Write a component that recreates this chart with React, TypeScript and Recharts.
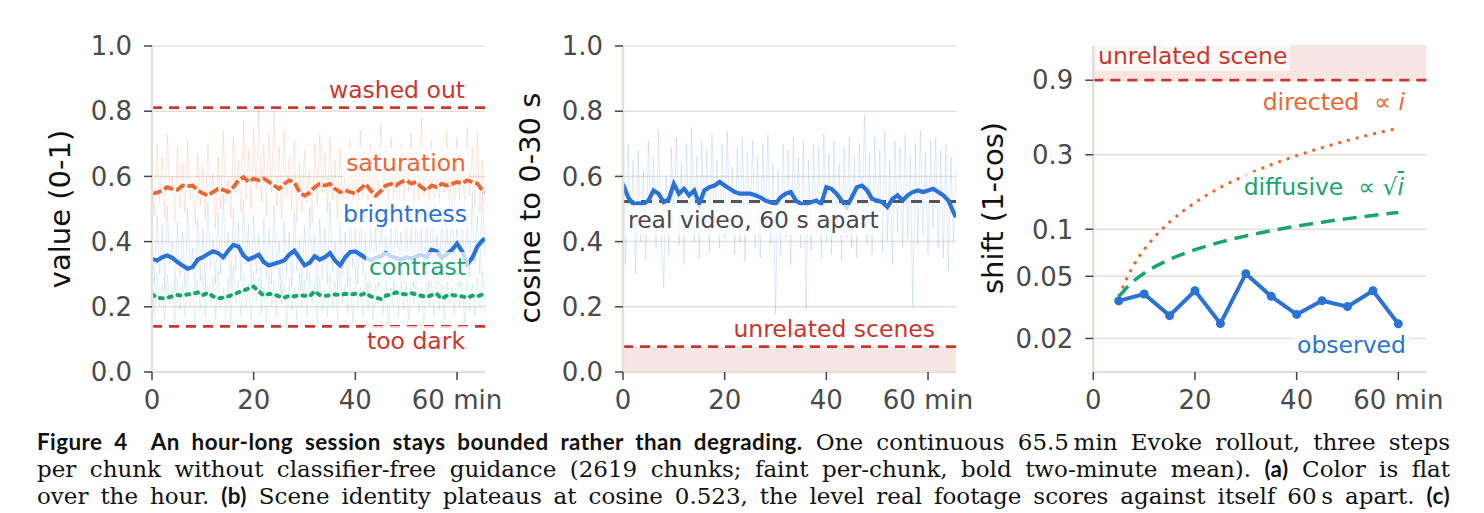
import React from "react";
import { LineChart, Line, XAxis, YAxis, CartesianGrid, ReferenceLine, ReferenceArea } from "recharts";

// ---- data -------------------------------------------------------------
// two-minute rolling mean, sampled every minute (last sample at 65.5 min)
const MEAN_T = Array.from({ length: 66 }, (_, i) => i).concat([65.5]);

const SATURATION_MEAN = [
  0.547, 0.55, 0.557, 0.567, 0.562, 0.559, 0.572, 0.57, 0.572, 0.557, 0.548, 0.541,
  0.552, 0.562, 0.559, 0.552, 0.567, 0.588, 0.598, 0.583, 0.593, 0.588, 0.593, 0.583,
  0.572, 0.562, 0.577, 0.588, 0.582, 0.552, 0.541, 0.55, 0.567, 0.577, 0.572, 0.577,
  0.562, 0.552, 0.557, 0.552, 0.547, 0.562, 0.577, 0.557, 0.541, 0.555, 0.572, 0.577,
  0.572, 0.583, 0.588, 0.578, 0.583, 0.567, 0.557, 0.572, 0.567, 0.577, 0.572, 0.577,
  0.583, 0.578, 0.588, 0.583, 0.578, 0.557, 0.552,
];
const BRIGHTNESS_MEAN = [
  0.347, 0.342, 0.352, 0.357, 0.35, 0.337, 0.327, 0.317, 0.322, 0.345, 0.352, 0.362,
  0.37, 0.365, 0.352, 0.372, 0.39, 0.385, 0.357, 0.345, 0.352, 0.36, 0.337, 0.327,
  0.332, 0.337, 0.342, 0.36, 0.372, 0.35, 0.327, 0.335, 0.355, 0.345, 0.352, 0.365,
  0.342, 0.327, 0.352, 0.368, 0.37, 0.36, 0.35, 0.342, 0.35, 0.355, 0.365, 0.355,
  0.35, 0.345, 0.352, 0.348, 0.355, 0.36, 0.352, 0.375, 0.37, 0.35, 0.362, 0.375,
  0.394, 0.37, 0.33, 0.35, 0.385, 0.404, 0.409,
];
const CONTRAST_MEAN = [
  0.239, 0.228, 0.226, 0.228, 0.232, 0.236, 0.234, 0.238, 0.24, 0.244, 0.236, 0.243,
  0.232, 0.226, 0.228, 0.232, 0.238, 0.244, 0.25, 0.256, 0.262, 0.248, 0.234, 0.24,
  0.238, 0.232, 0.228, 0.234, 0.232, 0.236, 0.234, 0.232, 0.248, 0.236, 0.234, 0.235,
  0.238, 0.236, 0.24, 0.238, 0.24, 0.236, 0.242, 0.232, 0.228, 0.224, 0.234, 0.238,
  0.244, 0.24, 0.238, 0.242, 0.238, 0.234, 0.23, 0.236, 0.24, 0.224, 0.234, 0.236,
  0.234, 0.232, 0.228, 0.234, 0.232, 0.238, 0.24,
];
const COSINE_MEAN = [
  0.577, 0.536, 0.516, 0.517, 0.516, 0.526, 0.557, 0.547, 0.521, 0.53, 0.577, 0.547,
  0.562, 0.542, 0.557, 0.516, 0.557, 0.567, 0.572, 0.583, 0.572, 0.562, 0.552, 0.547,
  0.547, 0.547, 0.542, 0.536, 0.526, 0.521, 0.516, 0.536, 0.547, 0.552, 0.526, 0.516,
  0.516, 0.521, 0.526, 0.516, 0.567, 0.562, 0.547, 0.526, 0.506, 0.536, 0.567, 0.572,
  0.557, 0.531, 0.526, 0.521, 0.506, 0.531, 0.542, 0.526, 0.542, 0.552, 0.557, 0.552,
  0.557, 0.562, 0.552, 0.542, 0.526, 0.49, 0.475,
];

// faint per-chunk values, read every half minute
const RAW_STEP = 0.5;
const SATURATION_RAW = [
  0.62, 0.48, 0.70, 0.52, 0.66, 0.47, 0.73, 0.55, 0.60, 0.46, 0.69, 0.50,
  0.64, 0.49, 0.71, 0.53, 0.58, 0.45, 0.67, 0.51, 0.63, 0.47, 0.70, 0.54,
  0.61, 0.44, 0.66, 0.50, 0.74, 0.52, 0.59, 0.47, 0.72, 0.55, 0.65, 0.49,
  0.77, 0.53, 0.68, 0.50, 0.75, 0.56, 0.81, 0.52, 0.70, 0.48, 0.73, 0.55,
  0.80, 0.51, 0.69, 0.47, 0.74, 0.54, 0.66, 0.50, 0.71, 0.46, 0.64, 0.49,
  0.68, 0.52, 0.62, 0.45, 0.70, 0.51, 0.73, 0.55, 0.67, 0.49, 0.72, 0.53,
  0.65, 0.47, 0.69, 0.50, 0.63, 0.46, 0.71, 0.52, 0.66, 0.48, 0.74, 0.54,
  0.68, 0.50, 0.70, 0.47, 0.65, 0.52, 0.76, 0.55, 0.69, 0.49, 0.72, 0.53,
  0.64, 0.47, 0.70, 0.51, 0.67, 0.55, 0.73, 0.49, 0.66, 0.52, 0.78, 0.54,
  0.68, 0.50, 0.71, 0.47, 0.64, 0.52, 0.69, 0.55, 0.74, 0.50, 0.67, 0.48,
  0.72, 0.53, 0.66, 0.50, 0.75, 0.54, 0.69, 0.51, 0.73, 0.49, 0.65, 0.52,
];
const BRIGHTNESS_RAW = [
  0.42, 0.27, 0.48, 0.30, 0.45, 0.25, 0.51, 0.33, 0.40, 0.24, 0.46, 0.29,
  0.43, 0.26, 0.50, 0.31, 0.38, 0.23, 0.47, 0.28, 0.44, 0.25, 0.52, 0.32,
  0.41, 0.27, 0.49, 0.30, 0.55, 0.34, 0.43, 0.26, 0.50, 0.31, 0.46, 0.28,
  0.53, 0.33, 0.45, 0.25, 0.48, 0.30, 0.42, 0.24, 0.47, 0.29, 0.44, 0.27,
  0.51, 0.32, 0.40, 0.23, 0.46, 0.30, 0.43, 0.26, 0.49, 0.31, 0.41, 0.25,
  0.45, 0.28, 0.50, 0.33, 0.42, 0.24, 0.47, 0.29, 0.44, 0.27, 0.52, 0.31,
  0.40, 0.25, 0.46, 0.30, 0.43, 0.26, 0.48, 0.32, 0.45, 0.27, 0.50, 0.30,
  0.41, 0.24, 0.47, 0.29, 0.44, 0.26, 0.49, 0.31, 0.42, 0.28, 0.46, 0.25,
  0.51, 0.33, 0.43, 0.27, 0.48, 0.30, 0.45, 0.26, 0.50, 0.32, 0.44, 0.28,
  0.47, 0.25, 0.52, 0.31, 0.42, 0.27, 0.49, 0.30, 0.46, 0.28, 0.53, 0.34,
  0.45, 0.26, 0.50, 0.31, 0.47, 0.29, 0.55, 0.33, 0.48, 0.30, 0.56, 0.35,
];
const CONTRAST_RAW = [
  0.28, 0.18, 0.31, 0.20, 0.27, 0.16, 0.30, 0.21, 0.26, 0.15, 0.29, 0.19,
  0.27, 0.17, 0.32, 0.20, 0.25, 0.14, 0.28, 0.19, 0.30, 0.17, 0.27, 0.21,
  0.29, 0.16, 0.31, 0.20, 0.26, 0.18, 0.29, 0.15, 0.33, 0.21, 0.28, 0.17,
  0.30, 0.20, 0.27, 0.16, 0.31, 0.22, 0.29, 0.18, 0.26, 0.15, 0.30, 0.20,
  0.28, 0.17, 0.32, 0.21, 0.27, 0.13, 0.29, 0.19, 0.26, 0.16, 0.30, 0.20,
  0.28, 0.17, 0.31, 0.21, 0.27, 0.15, 0.29, 0.19, 0.26, 0.17, 0.30, 0.20,
  0.28, 0.16, 0.31, 0.21, 0.27, 0.18, 0.29, 0.15, 0.32, 0.20, 0.26, 0.17,
  0.30, 0.19, 0.28, 0.16, 0.27, 0.21, 0.31, 0.18, 0.29, 0.15, 0.26, 0.20,
  0.30, 0.17, 0.28, 0.19, 0.27, 0.16, 0.31, 0.21, 0.29, 0.18, 0.26, 0.15,
  0.30, 0.20, 0.28, 0.17, 0.32, 0.19, 0.27, 0.16, 0.29, 0.21, 0.26, 0.18,
  0.31, 0.20, 0.28, 0.15, 0.30, 0.19, 0.27, 0.17, 0.29, 0.20, 0.31, 0.18,
];
const COSINE_RAW = [
  0.82, 0.33, 0.70, 0.42, 0.65, 0.30, 0.68, 0.40, 0.62, 0.34, 0.71, 0.45,
  0.66, 0.38, 0.74, 0.41, 0.26, 0.60, 0.36, 0.69, 0.44, 0.72, 0.39, 0.64,
  0.33, 0.70, 0.42, 0.75, 0.40, 0.66, 0.35, 0.71, 0.43, 0.68, 0.37, 0.73,
  0.46, 0.65, 0.38, 0.70, 0.41, 0.74, 0.44, 0.63, 0.36, 0.69, 0.40, 0.72,
  0.34, 0.67, 0.43, 0.71, 0.38, 0.66, 0.35, 0.70, 0.42, 0.73, 0.39, 0.64,
  0.17, 0.62, 0.36, 0.70, 0.41, 0.68, 0.33, 0.72, 0.44, 0.66, 0.38, 0.71,
  0.19, 0.65, 0.37, 0.70, 0.42, 0.69, 0.35, 0.73, 0.40, 0.67, 0.36, 0.71,
  0.43, 0.64, 0.34, 0.69, 0.41, 0.72, 0.38, 0.66, 0.35, 0.70, 0.44, 0.79,
  0.39, 0.67, 0.36, 0.72, 0.42, 0.68, 0.37, 0.74, 0.40, 0.65, 0.33, 0.71,
  0.43, 0.69, 0.38, 0.73, 0.41, 0.66, 0.20, 0.70, 0.39, 0.74, 0.42, 0.67,
  0.36, 0.71, 0.44, 0.72, 0.38, 0.68, 0.35, 0.70, 0.31, 0.66, 0.40, 0.62,
];

const WASHED_OUT = 0.811;
const TOO_DARK = 0.14;
const REAL_VIDEO_60S = 0.523;
const UNRELATED_COS = 0.078;
const UNRELATED_SHIFT = 0.9;

// (c) shift from the first window, every 5 minutes
const OBS_T = [5, 10, 15, 20, 25, 30, 35, 40, 45, 50, 55, 60];
const OBSERVED = [0.0348, 0.0385, 0.028, 0.0404, 0.0249, 0.052, 0.0372, 0.0285, 0.0349, 0.032, 0.0404, 0.0248];
const MODEL_T = [5, 7.5, 10, 12.5, 15, 20, 25, 30, 35, 40, 45, 50, 55, 60];
const DIRECTED = [0.037, 0.0555, 0.074, 0.0925, 0.111, 0.148, 0.185, 0.222, 0.259, 0.296, 0.333, 0.37, 0.407, 0.444];
const DIFFUSIVE = [0.037, 0.0453, 0.0523, 0.0585, 0.0641, 0.074, 0.0827, 0.0906, 0.0979, 0.1047, 0.111, 0.117, 0.1227, 0.128];

const X_TICKS = [0, 20, 40, 60];
const LIN_TICKS = [0, 0.2, 0.4, 0.6, 0.8, 1.0];
const LOG_TICKS = [0.02, 0.05, 0.1, 0.3, 0.9];

// ---- style ------------------------------------------------------------
const RED = "#c9372c";
const ORANGE = "#ec6531";
const BLUE = "#2a72d6";
const GREEN = "#1aa56f";
const PINK = "#f8e6e4";
const SPINE = "#e2e0d9";
const FONT = "DejaVu Sans, sans-serif";

const rows = (ts: number[], vs: number[]) => vs.map((v, i) => ({ t: ts[i], v }));
const rawRows = (vs: number[]) => vs.map((v, i) => ({ t: i * RAW_STEP, v }));

const tick = { fontSize: 26, fill: "#4a4a4a", fontFamily: FONT };

function xAxis() {
  return (
    <XAxis
      type="number"
      dataKey="t"
      domain={[0, 65.5]}
      ticks={X_TICKS}
      interval={0}
      allowDataOverflow
      tickFormatter={(v) => (v === 60 ? "60 min" : String(v))}
      tick={tick}
      tickSize={8}
      tickMargin={11}
      height={58}
      axisLine={{ stroke: SPINE, strokeWidth: 2.5 }}
      tickLine={{ stroke: "#444", strokeWidth: 1.5 }}
    />
  );
}

function Panel({ left, yWidth, children }: { left: number; yWidth: number; children: React.ReactNode }) {
  return (
    <div style={{ position: "absolute", left, top: 0 }}>
      <LineChart width={yWidth + 333 + 40} height={430} margin={{ top: 46, right: 40, bottom: 0, left: 0 }}>
        {children}
      </LineChart>
    </div>
  );
}

function Tag({
  x, right, base, color, size = 23.5, children,
}: { x?: number; right?: number; base: number; color: string; size?: number; children: React.ReactNode }) {
  const pos: React.CSSProperties = right != null ? { right: 1484 - right - 3 } : { left: (x ?? 0) - 3 };
  return (
    <div
      style={{
        position: "absolute", ...pos, top: base - 1 - 0.946 * size,
        fontFamily: FONT, fontSize: size, lineHeight: 1.2, color, whiteSpace: "nowrap",
        padding: "1px 3px", background: "rgba(255,255,255,0.72)",
      }}
    >
      {children}
    </div>
  );
}

function Title({ cx, cy, children }: { cx: number; cy: number; children: React.ReactNode }) {
  return (
    <div
      style={{
        position: "absolute", left: cx, top: cy, transform: "translate(-50%,-50%) rotate(-90deg)",
        fontFamily: FONT, fontSize: 29, color: "#111", whiteSpace: "nowrap", lineHeight: 1,
      }}
    >
      {children}
    </div>
  );
}

const serif: React.CSSProperties = { fontFamily: "DejaVu Serif, serif", fontSize: 23 };
const bold: React.CSSProperties = {
  fontFamily: "Lato, sans-serif", fontWeight: 700, fontSize: 22.4, letterSpacing: 0.45, lineHeight: 1,
};

function CaptionLine({ top, children }: { top: number; children: React.ReactNode }) {
  return (
    <div
      style={{
        position: "absolute", left: 37, top, width: 1413, color: "#111", lineHeight: "27px",
        textAlign: "justify", textAlignLast: "justify", ...serif,
      }}
    >
      {children}
    </div>
  );
}

export default function App() {
  return (
    <div style={{ position: "absolute", left: 0, top: 0, width: 1484, height: 513, background: "#fff", overflow: "hidden" }}>
      {/* (a) color statistics */}
      <Panel left={0} yWidth={152}>
        <CartesianGrid vertical={false} stroke={SPINE} strokeWidth={1.5} />
        {xAxis()}
        <YAxis
          type="number" domain={[0, 1]} ticks={LIN_TICKS} interval={0} width={152}
          tickFormatter={(v) => v.toFixed(1)} tick={tick} tickSize={8} tickMargin={12}
          axisLine={{ stroke: SPINE, strokeWidth: 2.5 }} tickLine={{ stroke: "#444", strokeWidth: 1.5 }}
        />
        <Line data={rawRows(SATURATION_RAW)} dataKey="v" stroke={ORANGE} strokeOpacity={0.16} strokeWidth={1} dot={false} isAnimationActive={false} />
        <Line data={rawRows(BRIGHTNESS_RAW)} dataKey="v" stroke={BLUE} strokeOpacity={0.14} strokeWidth={1} dot={false} isAnimationActive={false} />
        <Line data={rawRows(CONTRAST_RAW)} dataKey="v" stroke={GREEN} strokeOpacity={0.13} strokeWidth={1} dot={false} isAnimationActive={false} />
        <Line data={rows(MEAN_T, SATURATION_MEAN)} dataKey="v" stroke={ORANGE} strokeWidth={3.8} strokeDasharray="10 3" dot={false} isAnimationActive={false} />
        <Line data={rows(MEAN_T, BRIGHTNESS_MEAN)} dataKey="v" stroke={BLUE} strokeWidth={4.2} dot={false} isAnimationActive={false} />
        <Line data={rows(MEAN_T, CONTRAST_MEAN)} dataKey="v" stroke={GREEN} strokeWidth={4} strokeDasharray="3 6" strokeLinecap="round" dot={false} isAnimationActive={false} />
        <ReferenceLine y={WASHED_OUT} stroke={RED} strokeWidth={2.8} strokeDasharray="10 7" />
        <ReferenceLine y={TOO_DARK} stroke={RED} strokeWidth={2.8} strokeDasharray="10 7" />
      </Panel>

      {/* (b) scene identity */}
      <Panel left={470} yWidth={153}>
        <ReferenceArea y1={0} y2={UNRELATED_COS} fill={PINK} fillOpacity={1} stroke="none" />
        <CartesianGrid vertical={false} stroke={SPINE} strokeWidth={1.5} />
        {xAxis()}
        <YAxis
          type="number" domain={[0, 1]} ticks={LIN_TICKS} interval={0} width={153}
          tickFormatter={(v) => v.toFixed(1)} tick={tick} tickSize={8} tickMargin={12}
          axisLine={{ stroke: SPINE, strokeWidth: 2.5 }} tickLine={{ stroke: "#444", strokeWidth: 1.5 }}
        />
        <Line data={rawRows(COSINE_RAW)} dataKey="v" stroke={BLUE} strokeOpacity={0.15} strokeWidth={1} dot={false} isAnimationActive={false} />
        <ReferenceLine y={REAL_VIDEO_60S} stroke="#555" strokeWidth={3} strokeDasharray="11 7" />
        <ReferenceLine y={UNRELATED_COS} stroke={RED} strokeWidth={2.8} strokeDasharray="10 7" />
        <Line data={rows(MEAN_T, COSINE_MEAN)} dataKey="v" stroke={BLUE} strokeWidth={4.2} dot={false} isAnimationActive={false} />
      </Panel>

      {/* (c) drift against random-walk models */}
      <Panel left={940} yWidth={153.3}>
        <ReferenceArea y1={UNRELATED_SHIFT} y2={1.49} fill={PINK} fillOpacity={1} stroke="none" />
        <CartesianGrid vertical={false} stroke={SPINE} strokeWidth={1.5} />
        {xAxis()}
        <YAxis
          type="number" scale="log" domain={[0.0122, 1.49]} allowDataOverflow ticks={LOG_TICKS} interval={0} width={153.3}
          tickFormatter={(v) => String(v)} tick={tick} tickSize={8} tickMargin={12}
          axisLine={{ stroke: SPINE, strokeWidth: 2.5 }} tickLine={{ stroke: "#444", strokeWidth: 1.5 }}
        />
        <ReferenceLine y={UNRELATED_SHIFT} stroke={RED} strokeWidth={2.8} strokeDasharray="10 7" />
        <Line data={rows(MODEL_T, DIRECTED)} type="monotone" dataKey="v" stroke={ORANGE} strokeWidth={3} strokeDasharray="3 6" dot={false} isAnimationActive={false} />
        <Line data={rows(MODEL_T, DIFFUSIVE)} type="monotone" dataKey="v" stroke={GREEN} strokeWidth={3.5} strokeDasharray="14 8" dot={false} isAnimationActive={false} />
        <Line
          data={rows(OBS_T, OBSERVED)} dataKey="v" stroke={BLUE} strokeWidth={4}
          dot={{ r: 4.5, fill: BLUE, stroke: BLUE, strokeWidth: 0 }} isAnimationActive={false}
        />
      </Panel>

      <Title cx={60} cy={209}>value (0-1)</Title>
      <Title cx={530} cy={208}>cosine to 0-30 s</Title>
      <Title cx={993} cy={208}>shift (1-cos)</Title>

      <Tag right={465} base={98} color={RED}>washed out</Tag>
      <Tag right={466} base={171.5} color={ORANGE}>saturation</Tag>
      <Tag right={467} base={222} color={BLUE}>brightness</Tag>
      <Tag right={466} base={275} color={GREEN}>contrast</Tag>
      <Tag right={465} base={349} color={RED}>too dark</Tag>

      <Tag x={628} base={228} color="#4a4a4a">real video, 60 s apart</Tag>
      <Tag right={935} base={337} color={RED}>unrelated scenes</Tag>

      <Tag x={1098} base={64} color={RED}>unrelated scene</Tag>
      <Tag right={1405} base={110} color={ORANGE}>
        directed&nbsp; ∝ <i>i</i>
      </Tag>
      <Tag right={1404} base={195} color={GREEN}>
        diffusive&nbsp; ∝ √<i style={{ textDecoration: "overline" }}>i</i>
      </Tag>
      <Tag right={1406} base={353} color={BLUE}>observed</Tag>

      <CaptionLine top={429}>
        <span style={bold}>Figure 4&nbsp;&nbsp;An hour-long session stays bounded rather than degrading.</span> One continuous
        65.5&#8201;min Evoke rollout, three steps
      </CaptionLine>
      <CaptionLine top={456}>
        per chunk without classifier-free guidance (2619 chunks; faint per-chunk, bold two-minute mean). <span style={bold}>(a)</span> Color
        is flat
      </CaptionLine>
      <CaptionLine top={483}>
        over the hour. <span style={bold}>(b)</span> Scene identity plateaus at cosine 0.523, the level real footage scores against itself
        60&#8201;s apart. <span style={bold}>(c)</span>
      </CaptionLine>
    </div>
  );
}
